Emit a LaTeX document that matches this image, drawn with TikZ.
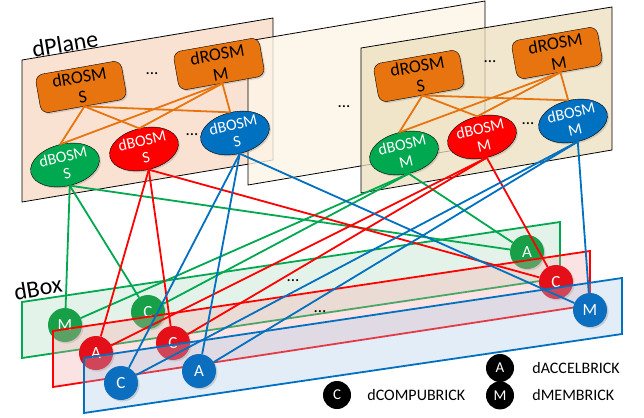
\documentclass[tikz,border=0pt]{standalone}
\usepackage{fontspec}
\setmainfont{Carlito}
\usetikzlibrary{positioning,shapes.geometric,shadows}
\definecolor{rosmorange}{HTML}{E8740F}
\definecolor{bosmgreen}{HTML}{00A84F}
\definecolor{bosmred}{HTML}{FF0000}
\definecolor{bosmblue}{HTML}{0070C0}
\definecolor{brickgreen}{HTML}{17A047}
\definecolor{brickred}{HTML}{E50F1A}
\definecolor{brickblue}{HTML}{0B6EBF}
\definecolor{planeone}{HTML}{F9E2D2}
\definecolor{planetwo}{HTML}{FDF5E6}
\definecolor{planethree}{HTML}{ECDFBE}
\definecolor{sheetgreen}{HTML}{A8DAB9}
\definecolor{sheetred}{HTML}{F8A5A5}
\definecolor{sheetblue}{HTML}{A2C6E8}

\begin{document}
\begin{tikzpicture}[x=1pt, y=-1pt,
  rosm/.style={draw=black, fill=rosmorange, rounded corners=8pt, rotate=10, minimum width=87pt, minimum height=39pt, inner sep=0pt, align=center, font=\fontsize{18}{20}\selectfont, drop shadow={opacity=0.3, shadow xshift=1.5pt, shadow yshift=-1.5pt}},
  bosm/.style={ellipse, draw=black, rotate=13, minimum width=70pt, minimum height=42pt, inner sep=0pt, align=center, text=white, font=\fontsize{16}{17}\selectfont, drop shadow={opacity=0.3, shadow xshift=1.5pt, shadow yshift=-1.5pt}},
  brick/.style={circle, minimum size=34pt, inner sep=0pt, text=white, font=\fontsize{17}{17}\selectfont, drop shadow={opacity=0.3, shadow xshift=1.5pt, shadow yshift=-1.5pt}},
  key/.style={circle, fill=black, minimum size=28pt, inner sep=0pt, text=white, font=\fontsize{15}{15}\selectfont},
  keytext/.style={inner sep=0pt, font=\fontsize{16}{16}\selectfont},
  plane/.style={draw=black, line width=0.8pt},
  sheet/.style={line width=1.8pt, fill opacity=0.3},
  link/.style={line width=1.8pt},
  dots/.style={font=\fontsize{17}{17}\selectfont},
  tag/.style={rotate=9.5, font=\fontsize{24}{24}\selectfont}
]
\useasboundingbox (0,0) rectangle (644,417);

\fill[white] (0,0) rectangle (644,417);
\draw[plane, fill=planeone] (22,60) -- (273,18) -- (273,160) -- (22,202) -- cycle;
\draw[plane, fill=planetwo, fill opacity=0.8] (248,41) -- (485,1) -- (485,145) -- (248,185) -- cycle;
\draw[plane, fill=planethree, fill opacity=0.75] (361,48) -- (612,7) -- (612,150) -- (361,193) -- cycle;

\node (dplane)[tag] at (65,44) {dPlane};
\node (dbox)[tag] at (38,288) {dBox};

\node (rs1)[rosm] at (81,87) {dROSM\\S};
\node (rm1)[rosm] at (219,64) {dROSM\\M};
\node (rs2)[rosm] at (419,76) {dROSM\\S};
\node (rm2)[rosm] at (557,53) {dROSM\\M};

\node (g1)[bosm, fill=bosmgreen] at (65,165) {dBOSM\\S};
\node (r1)[bosm, fill=bosmred]   at (144,149) {dBOSM\\S};
\node (b1)[bosm, fill=bosmblue]  at (235,133) {dBOSM\\S};
\node (g2)[bosm, fill=bosmgreen] at (404,153) {dBOSM\\M};
\node (r2)[bosm, fill=bosmred]   at (482,137) {dBOSM\\M};
\node (b2)[bosm, fill=bosmblue]  at (573,121) {dBOSM\\M};

\node (p1)[dots] at (152,74) {...};
\node (p2)[dots] at (192,135) {...};
\node (p3)[dots] at (344,107) {...};
\node (p4)[dots] at (490,62) {...};
\node (p5)[dots] at (528,124) {...};

\draw[rosmorange, link] (rs1.south) -- (g1.north);
\draw[rosmorange, link] (rs1.south) -- (r1.north);
\draw[rosmorange, link] (rs1.south) -- (b1.north);
\draw[rosmorange, link] (rm1.south) -- (g1.north);
\draw[rosmorange, link] (rm1.south) -- (r1.north);
\draw[rosmorange, link] (rm1.south) -- (b1.north);
\draw[rosmorange, link] (rs2.south) -- (g2.north);
\draw[rosmorange, link] (rs2.south) -- (r2.north);
\draw[rosmorange, link] (rs2.south) -- (b2.north);
\draw[rosmorange, link] (rm2.south) -- (g2.north);
\draw[rosmorange, link] (rm2.south) -- (r2.north);
\draw[rosmorange, link] (rm2.south) -- (b2.north);

\draw[sheet, draw=bosmgreen, fill=sheetgreen] (22,302) -- (560,222) -- (560,278) -- (22,358) -- cycle;
\node (gM)[brick, fill=brickgreen] at (65,325) {M};
\node (gC)[brick, fill=brickgreen] at (148,312) {C};
\node (gA)[brick, fill=brickgreen] at (527,252) {A};
\node (p6)[dots] at (293,281) {...};

\draw[sheet, draw=bosmred, fill=sheetred] (53,331) -- (590,251) -- (590,305) -- (53,387) -- cycle;
\node (rA)[brick, fill=brickred] at (96,353) {A};
\node (rC)[brick, fill=brickred] at (173,343) {C};
\node (rC2)[brick, fill=brickred] at (556,282) {C};
\node (p7)[dots] at (320,312) {...};

\draw[sheet, draw=bosmblue, fill=sheetblue] (84,358) -- (622,278) -- (622,334) -- (84,413) -- cycle;
\node (bC)[brick, fill=brickblue] at (121,383) {C};
\node (bA)[brick, fill=brickblue] at (199,371) {A};
\node (bM)[brick, fill=brickblue] at (590,310) {M};

\draw[bosmgreen, link] (g1.south) -- (gM);
\draw[bosmgreen, link] (g1.south) -- (gC);
\draw[bosmgreen, link] (g1.south) -- (gA);
\draw[bosmgreen, link] (g2.south) -- (gM);
\draw[bosmgreen, link] (g2.south) -- (gC);
\draw[bosmgreen, link] (g2.south) -- (gA);
\draw[bosmred, link] (r1.south) -- (rA);
\draw[bosmred, link] (r1.south) -- (rC);
\draw[bosmred, link] (r1.south) -- (rC2);
\draw[bosmred, link] (r2.south) -- (rA);
\draw[bosmred, link] (r2.south) -- (rC);
\draw[bosmred, link] (r2.south) -- (rC2);
\draw[bosmblue, link] (b1.south) -- (bC);
\draw[bosmblue, link] (b1.south) -- (bA);
\draw[bosmblue, link] (b1.south) -- (bM);
\draw[bosmblue, link] (b2.south) -- (bC);
\draw[bosmblue, link] (b2.south) -- (bA);
\draw[bosmblue, link] (b2.south) -- (bM);

\node (kA)[key] at (500,368) {A};
\node (kM)[key] [below=-1pt of kA] {M};
\node (kC)[key] at (337,395) {C};
\node (tA)[keytext] [right=18pt of kA] {dACCELBRICK};
\node (tM)[keytext] [right=18pt of kM] {dMEMBRICK};
\node (tC)[keytext] [right=16pt of kC] {dCOMPUBRICK};
\end{tikzpicture}
\end{document}
